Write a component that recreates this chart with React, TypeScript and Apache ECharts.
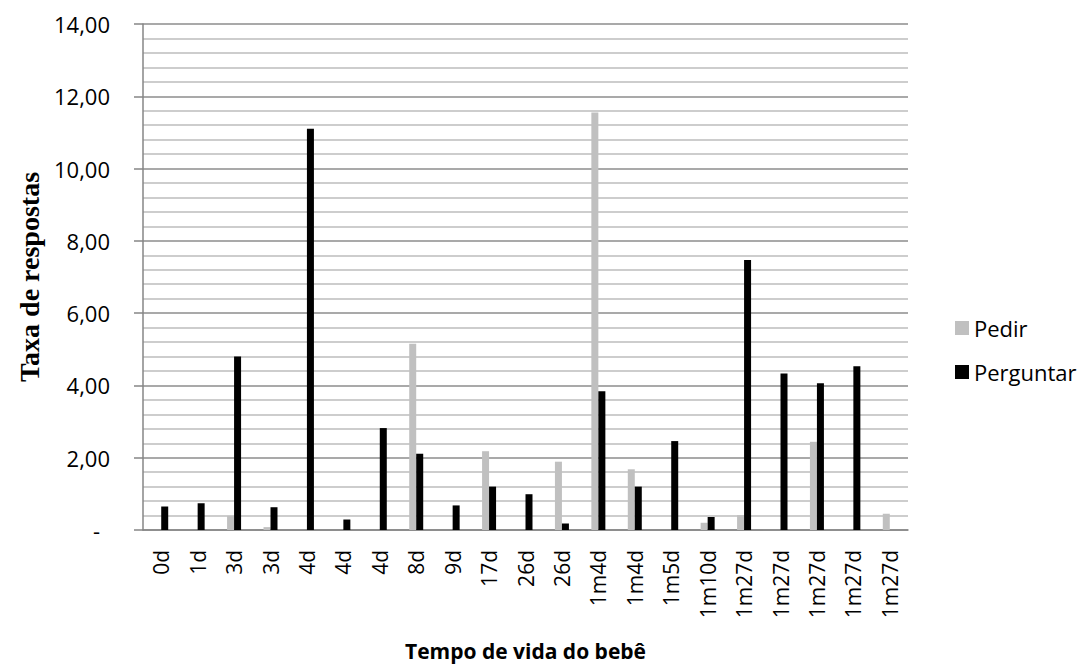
import React, { useEffect, useRef } from "react";
import * as echarts from "echarts";

const categories = ["0d", "1d", "3d", "3d", "4d", "4d", "4d", "8d", "9d", "17d", "26d", "26d", "1m4d", "1m4d", "1m5d", "1m10d", "1m27d", "1m27d", "1m27d", "1m27d", "1m27d"];
const pedir = [0, 0, 0.39, 0.08, 0, 0, 0, 5.15, 0, 2.18, 0, 1.89, 11.55, 1.68, 0, 0.2, 0.41, 0, 2.44, 0, 0.45];
const perguntar = [0.65, 0.74, 4.8, 0.63, 11.1, 0.29, 2.82, 2.11, 0.68, 1.2, 0.99, 0.18, 3.84, 1.2, 2.46, 0.36, 7.47, 4.33, 4.06, 4.53, 0];
const yTicks = [0, 2, 4, 6, 8, 10, 12, 14];

export default function App() {
  const ref = useRef<HTMLDivElement>(null);
  useEffect(() => {
    if (!ref.current) return;
    const chart = echarts.init(ref.current, null, { renderer: "svg" });
    chart.setOption({
      animation: false,
      textStyle: { fontFamily: "Open Sans" },
      grid: { left: 143, right: 174, top: 24, bottom: 131, containLabel: false },
      legend: {
        orient: "vertical",
        left: 950,
        top: 312,
        itemWidth: 14,
        itemHeight: 14,
        itemGap: 22,
        icon: "rect",
        textStyle: { fontSize: 22, color: "#000", fontFamily: "Open Sans" },
        data: ["Pedir", "Perguntar"],
      },
      xAxis: {
        type: "category",
        data: categories,
        name: "Tempo de vida do bebê",
        nameLocation: "middle",
        nameGap: 110,
        nameTextStyle: { fontSize: 21, fontWeight: "bold", color: "#000", fontFamily: "Open Sans" },
        axisLine: { lineStyle: { color: "#868686", width: 1.5 } },
        axisTick: { show: false },
        axisLabel: { rotate: 90, interval: 0, margin: 20, fontSize: 21, color: "#000" },
      },
      yAxis: {
        type: "value",
        min: 0,
        max: 14,
        interval: 2,
        name: "Taxa de respostas",
        nameLocation: "middle",
        nameGap: 94,
        nameTextStyle: { fontSize: 28, fontWeight: "bold", color: "#000", fontFamily: "Liberation Serif" },
        axisLine: { show: true, lineStyle: { color: "#868686", width: 1.5 } },
        axisTick: { show: true, length: 9, lineStyle: { color: "#868686", width: 1.5 } },
        axisLabel: {
          margin: 33,
          fontSize: 22,
          color: "#000",
          formatter: (v: number) => (v === 0 ? "{z|-}" : yTicks.includes(v) ? v.toFixed(2).replace(".", ",") : ""),
          rich: { z: { fontSize: 22, padding: [0, 10, 0, 0], color: "#000" } },
        },
        splitLine: { show: true, lineStyle: { color: "#8c8c8c", width: 1.5 } },
        minorTick: { show: false, splitNumber: 5 },
        minorSplitLine: { show: true, lineStyle: { color: "#bcbcbc", width: 1.5 } },
      },
      series: [
        { name: "Pedir", type: "bar", data: pedir, barWidth: 7, barGap: "0%", itemStyle: { color: "#c0c0c0" } },
        { name: "Perguntar", type: "bar", data: perguntar, barWidth: 7, barGap: "0%", itemStyle: { color: "#000000" } },
      ],
    });
    return () => chart.dispose();
  }, []);
  return <div ref={ref} style={{ width: 1082, height: 666, position: "absolute", left: 0, top: 0 }} />;
}
